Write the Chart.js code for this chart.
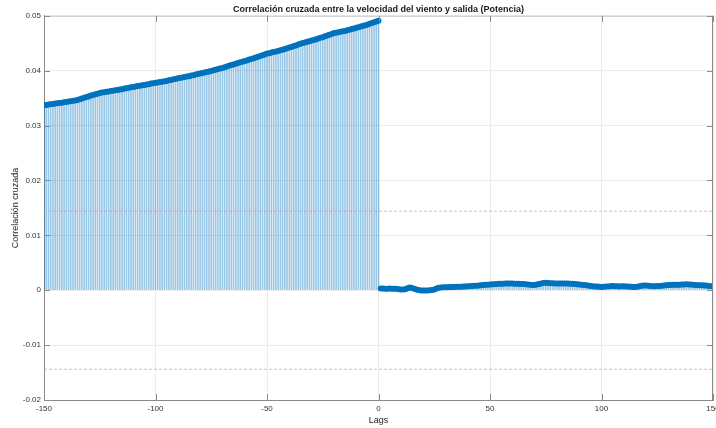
<!DOCTYPE html>
<html><head><meta charset="utf-8">
<script src="https://cdn.jsdelivr.net/npm/chart.js@4"></script>
<style>html,body{margin:0;padding:0;background:#fff;overflow:hidden}</style>
</head><body>
<canvas id="c" width="716" height="428"></canvas>
<script>
// ---- data ----
const lagsNeg = []; for (let l = -150; l <= 0; l++) lagsNeg.push(l);
const lagsPos = []; for (let l = 1; l <= 150; l++) lagsPos.push(l);
const corrNeg = [
 .03370,.03375,.03383,.03388,.03393,.03401,.03405,.03413,.03418,.03423,
 .03430,.03438,.03443,.03452,.03457,.03466,.03481,.03494,.03509,.03519,
 .03531,.03546,.03557,.03571,.03582,.03594,.03603,.03608,.03617,.03622,
 .03631,.03636,.03645,.03650,.03659,.03664,.03674,.03680,.03690,.03696,
 .03705,.03711,.03720,.03725,.03734,.03739,.03749,.03755,.03765,.03771,
 .03780,.03786,.03795,.03800,.03809,.03814,.03825,.03832,.03843,.03850,
 .03861,.03867,.03877,.03883,.03893,.03899,.03911,.03919,.03931,.03939,
 .03951,.03958,.03969,.03976,.03987,.03994,.04007,.04016,.04029,.04038,
 .04051,.04062,.04077,.04088,.04103,.04114,.04128,.04138,.04152,.04162,
 .04176,.04187,.04202,.04213,.04228,.04239,.04255,.04267,.04283,.04295,
 .04311,.04319,.04331,.04339,.04351,.04359,.04373,.04383,.04397,.04407,
 .04421,.04433,.04449,.04461,.04477,.04489,.04503,.04513,.04527,.04537,
 .04551,.04561,.04575,.04585,.04599,.04609,.04626,.04639,.04656,.04669,
 .04686,.04692,.04702,.04708,.04718,.04724,.04737,.04746,.04759,.04768,
 .04781,.04791,.04805,.04815,.04829,.04839,.04855,.04867,.04883,.04895,
 .04910
];
const corrPos = [
 .00030,.00031,.00029,.00028,.00030,.00029,.00027,.00025,.00020,.00014,
 .00012,.00020,.00035,.00048,.00040,.00025,.00012,.00002,-.00004,-.00005,
 -.00004,-.00005,-.00002,.00002,.00012,.00030,.00045,.00050,.00052,.00054,
 .00055,.00057,.00058,.00060,.00062,.00063,.00065,.00067,.00069,.00072,
 .00074,.00077,.00080,.00083,.00086,.00090,.00094,.00098,.00102,.00106,
 .00108,.00110,.00112,.00116,.00118,.00120,.00121,.00122,.00122,.00121,
 .00120,.00118,.00117,.00115,.00112,.00108,.00104,.00100,.00097,.00097,
 .00103,.00112,.00122,.00130,.00134,.00132,.00128,.00126,.00124,.00122,
 .00122,.00123,.00122,.00121,.00122,.00120,.00117,.00112,.00108,.00104,
 .00100,.00096,.00090,.00084,.00078,.00074,.00070,.00066,.00063,.00060,
 .00062,.00066,.00070,.00073,.00075,.00074,.00072,.00070,.00071,.00072,
 .00070,.00066,.00062,.00060,.00060,.00064,.00072,.00080,.00085,.00084,
 .00080,.00076,.00074,.00074,.00075,.00078,.00082,.00086,.00090,.00093,
 .00096,.00098,.00100,.00101,.00102,.00104,.00106,.00108,.00106,.00103,
 .00098,.00094,.00092,.00090,.00090,.00088,.00084,.00078,.00074,.00072
];
const confBound = 0.0144;
const xTicks = [-150, -100, -50, 0, 50, 100, 150];
const yTicks = [-0.02, -0.01, 0, 0.01, 0.02, 0.03, 0.04, 0.05];

const lags = lagsNeg.concat(lagsPos);
const corr = corrNeg.concat(corrPos);
const pts = lags.map((l, i) => ({x: l, y: corr[i]}));

const AX = '#8a8a8a';
const FONT = "'Liberation Sans', Arial, sans-serif";

const boxPlugin = {
  id: 'boxTicks',
  afterDraw(chart) {
    const {ctx, chartArea: a, scales: {x, y}} = chart;
    ctx.save();
    ctx.lineWidth = 1;
    ctx.strokeStyle = '#c8c8c8';
    ctx.beginPath();
    ctx.moveTo(a.left, a.top + 0.5); ctx.lineTo(a.right, a.top + 0.5);
    ctx.stroke();
    ctx.strokeStyle = AX;
    ctx.beginPath();
    ctx.moveTo(a.right - 0.5, a.top); ctx.lineTo(a.right - 0.5, a.bottom);
    xTicks.forEach(t => {
      const px = Math.round(x.getPixelForValue(t)) + 0.5;
      ctx.moveTo(px, a.bottom); ctx.lineTo(px, a.bottom - 6);
      ctx.moveTo(px, a.top); ctx.lineTo(px, a.top + 6);
    });
    yTicks.forEach(t => {
      const py = Math.round(y.getPixelForValue(t)) + 0.5;
      ctx.moveTo(a.left, py); ctx.lineTo(a.left + 6, py);
      ctx.moveTo(a.right, py); ctx.lineTo(a.right - 6, py);
    });
    ctx.stroke();
    ctx.restore();
  }
};

new Chart(document.getElementById('c'), {
  type: 'bar',
  data: {
    datasets: [
      { type: 'line', data: pts, showLine: false, pointRadius: 3, pointHoverRadius: 3,
        pointBackgroundColor: '#0072BD', pointBorderWidth: 0, order: 0 },
      { type: 'line', data: [{x: -150, y: confBound}, {x: 150, y: confBound}],
        borderColor: 'rgba(240,120,150,0.6)', borderWidth: 1, borderDash: [3, 2], pointRadius: 0, order: 1 },
      { type: 'line', data: [{x: -150, y: -confBound}, {x: 150, y: -confBound}],
        borderColor: 'rgba(240,120,150,0.6)', borderWidth: 1, borderDash: [3, 2], pointRadius: 0, order: 1 },
      { type: 'bar', data: pts, barThickness: 1, backgroundColor: 'rgba(0,114,189,0.4)',
        borderWidth: 0, order: 2 }
    ]
  },
  options: {
    responsive: false, animation: false, devicePixelRatio: 1,
    layout: { padding: { left: 0, right: 2, top: 0, bottom: 0 } },
    plugins: {
      legend: { display: false }, tooltip: { enabled: false },
      title: { display: true, fullSize: false,
        text: 'Correlación cruzada entre la velocidad del viento y salida (Potencia)',
        color: '#1a1a1a', font: { family: FONT, size: 9, weight: 'bold' },
        padding: { top: 4, bottom: 1 } }
    },
    scales: {
      x: { type: 'linear', min: -150, max: 150, offset: false,
        afterBuildTicks(s) { s.ticks = xTicks.map(v => ({value: v})); },
        afterFit(s) { s.height = 28; s.paddingLeft = 0; s.paddingRight = 0; },
        ticks: { color: '#333', font: { family: FONT, size: 8 }, padding: 4, maxRotation: 0, autoSkip: false },
        grid: { color: '#ececec', drawTicks: false, offset: false },
        border: { color: AX },
        title: { display: true, text: 'Lags', color: '#262626', font: { family: FONT, size: 9 }, padding: { top: 0, bottom: 2 } }
      },
      y: { min: -0.02, max: 0.05,
        afterBuildTicks(s) { s.ticks = yTicks.map(v => ({value: v})); },
        afterFit(s) { s.width = 44; },
        ticks: { color: '#333', font: { family: FONT, size: 8 }, padding: 3,
          callback: v => Math.abs(v) < 1e-9 ? '0' : (+v.toFixed(2)).toString() },
        grid: { color: '#ececec', drawTicks: false },
        border: { color: AX },
        title: { display: true, text: 'Correlación cruzada', color: '#262626', font: { family: FONT, size: 9 }, padding: { top: 10, bottom: 0 } }
      }
    }
  },
  plugins: [boxPlugin]
});
</script>
</body></html>
